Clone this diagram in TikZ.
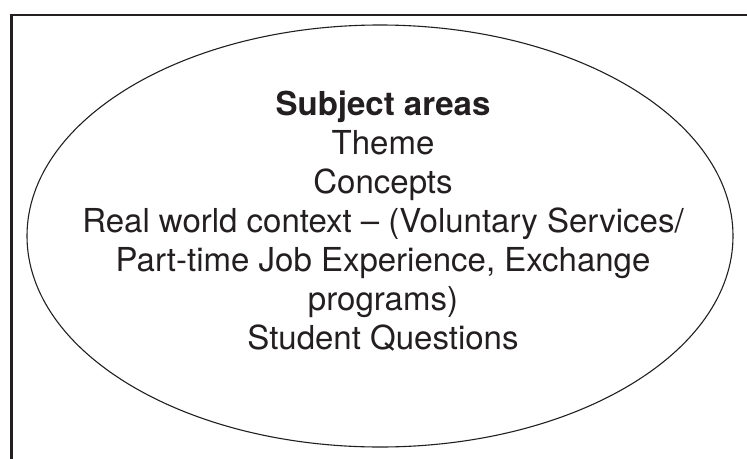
\documentclass[tikz,border=0pt]{standalone}
\usepackage{fontspec}
\setmainfont{TeX Gyre Heros}
\usetikzlibrary{shapes.geometric}
\definecolor{inkgray}{HTML}{231F20}
\begin{document}
\begin{tikzpicture}[x=1pt,y=-1pt,
            frame/.style={
                draw=inkgray,
                line width=2.6pt
            },
            oval/.style={
                draw=inkgray,
                ellipse,
                line width=1.1pt,
                minimum width=706pt,
                minimum height=422pt,
                inner sep=0pt
            },
            areas/.style={
                align=center,
                inner sep=0pt,
                text=inkgray,
                font=\fontsize{33}{39}\selectfont
            }
        ]
            \useasboundingbox (0,0) rectangle (747,458);
            \draw[frame] (11.5,15) rectangle (775,485);
            \node[oval] (topic) at (380,236) {};
            \node[areas, anchor=north] (topictext) at (383,91) {
                \textbf{Subject areas}\\
                Theme\\
                Concepts\\
                Real world context -- (Voluntary Services/\\
                Part-time Job Experience, Exchange\\
                programs)\\
                Student Questions
            };
        \end{tikzpicture}
\end{document}
